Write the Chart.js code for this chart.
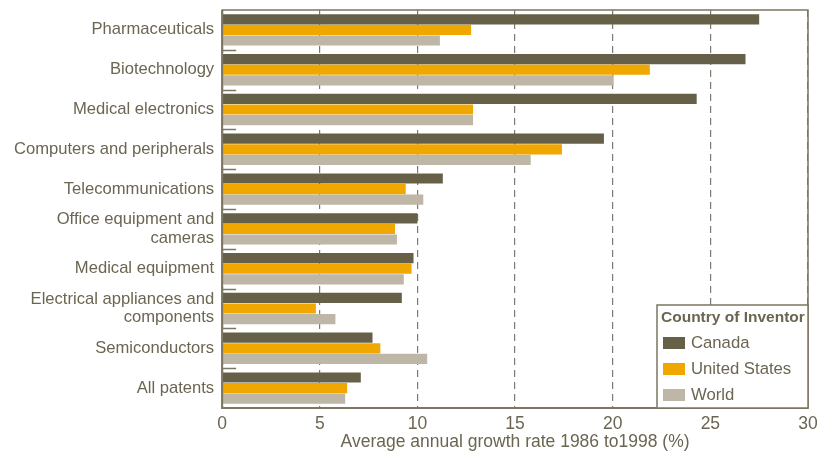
<!DOCTYPE html>
<html>
<head>
<meta charset="utf-8">
<script src="https://cdn.jsdelivr.net/npm/chart.js@4/dist/chart.umd.min.js"></script>
<style>
  html, body { margin: 0; padding: 0; background: #fff; }
  #wrap { width: 819px; height: 455px; }
</style>
</head>
<body>
<div id="wrap"><canvas id="grafico"></canvas></div>
<script>
const categories = [
    'Pharmaceuticals',
    'Biotechnology',
    'Medical electronics',
    'Computers and peripherals',
    'Telecommunications',
    ['Office equipment and', 'cameras'],
    'Medical equipment',
    ['Electrical appliances and', 'components'],
    'Semiconductors',
    'All patents'
];
const canada = [27.5, 26.8, 24.3, 19.55, 11.3, 10.0, 9.8, 9.2, 7.7, 7.1];
const unitedStates = [12.75, 21.9, 12.85, 17.4, 9.4, 8.85, 9.7, 4.8, 8.1, 6.4];
const world = [11.15, 20.05, 12.85, 15.8, 10.3, 8.95, 9.3, 5.8, 10.5, 6.3];
const xTicks = [0, 5, 10, 15, 20, 25, 30];

const textColor = '#6b6552';
const lineColor = '#7c7662';
const fontFamily = '"Liberation Sans", Arial, sans-serif';

// frame, inward category ticks and the legend box
const frame = {
    id: 'frame',
    afterDraw(chart) {
        const ctx = chart.ctx;
        const ca = chart.chartArea;
        const y = chart.scales.y;
        ctx.save();
        ctx.strokeStyle = lineColor;
        ctx.lineWidth = 1.5;
        ctx.strokeRect(ca.left, ca.top, ca.right - ca.left, ca.bottom - ca.top);
        ctx.lineWidth = 2;
        ctx.beginPath();
        ctx.moveTo(ca.left, ca.top);
        ctx.lineTo(ca.left, ca.bottom);
        ctx.lineTo(ca.right, ca.bottom);
        ctx.stroke();
        ctx.lineWidth = 1.5;
        for (let i = 1; i < categories.length; i++) {
            const yy = Math.round((y.getPixelForValue(i - 1) + y.getPixelForValue(i)) / 2) + 0.5;
            ctx.beginPath();
            ctx.moveTo(ca.left, yy);
            ctx.lineTo(ca.left + 14, yy);
            ctx.stroke();
        }

        // legend
        const w = 151, h = 103;
        const lx = ca.right - w, ly = ca.bottom - h;
        ctx.fillStyle = '#fff';
        ctx.fillRect(lx, ly, w, h);
        ctx.strokeStyle = lineColor;
        ctx.lineWidth = 1.5;
        ctx.strokeRect(lx, ly, w, h);
        ctx.fillStyle = textColor;
        ctx.textBaseline = 'middle';
        ctx.textAlign = 'left';
        ctx.font = 'bold 15.5px ' + fontFamily;
        ctx.fillText('Country of Inventor', lx + 4, ly + 13);
        ctx.font = '16.7px ' + fontFamily;
        chart.data.datasets.forEach(function (ds, i) {
            const iy = ly + 38 + i * 26;
            ctx.fillStyle = ds.backgroundColor;
            ctx.fillRect(lx + 6, iy - 6, 22, 12);
            ctx.fillStyle = textColor;
            ctx.fillText(ds.label, lx + 34, iy);
        });
        ctx.restore();
    }
};

const ctx = document.getElementById('grafico').getContext('2d');
const grafico = new Chart(ctx, {
    type: 'bar',
    data: {
        labels: categories,
        datasets: [
            { label: 'Canada', data: canada, backgroundColor: '#666049' },
            { label: 'United States', data: unitedStates, backgroundColor: '#f0a800' },
            { label: 'World', data: world, backgroundColor: '#beb6a6' }
        ]
    },
    options: {
        indexAxis: 'y',
        responsive: true,
        maintainAspectRatio: false,
        animation: false,
        layout: { padding: { top: 10, right: 11, left: 6, bottom: 4 } },
        datasets: {
            bar: { barPercentage: 0.96, categoryPercentage: 0.8 }
        },
        plugins: {
            legend: { display: false },
            tooltip: { enabled: false }
        },
        scales: {
            x: {
                min: 0,
                max: 30,
                afterBuildTicks: function (axis) {
                    axis.ticks = xTicks.map(function (v) { return { value: v }; });
                },
                afterFit: function (axis) {
                    axis.paddingLeft = 0;
                    axis.paddingRight = 0;
                },
                border: { display: false, dash: [7, 5] },
                grid: {
                    color: '#7a7a72',
                    lineWidth: 1.2,
                    drawTicks: false,
                    tickLength: 0
                },
                ticks: {
                    color: textColor,
                    padding: 7,
                    font: { family: fontFamily, size: 17.5, lineHeight: 1 }
                },
                title: {
                    display: true,
                    text: 'Average annual growth rate 1986 to1998 (%)',
                    color: textColor,
                    padding: { top: -6, bottom: 0 },
                    font: { family: fontFamily, size: 17.5, lineHeight: 1 }
                }
            },
            y: {
                afterFit: function (axis) {
                    axis.paddingTop = 0;
                    axis.paddingBottom = 0;
                },
                border: { display: false },
                grid: { display: false, drawTicks: false },
                ticks: {
                    autoSkip: false,
                    color: textColor,
                    padding: 8,
                    font: { family: fontFamily, size: 16.6, lineHeight: 1.1 }
                }
            }
        }
    },
    plugins: [frame]
});
</script>
</body>
</html>
